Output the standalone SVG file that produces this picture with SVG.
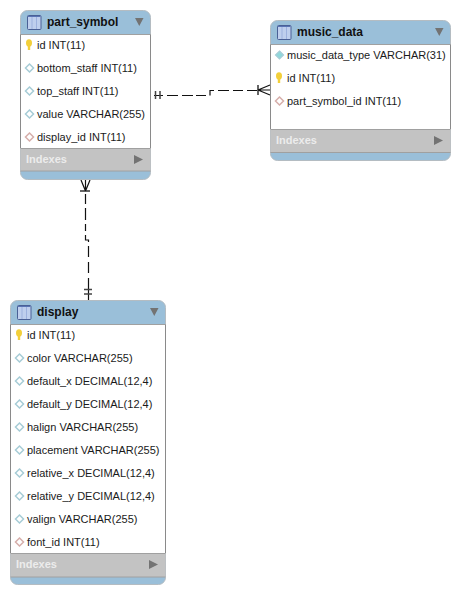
<svg xmlns="http://www.w3.org/2000/svg" width="460" height="594" viewBox="0 0 460 594">
<style>
text{font-family:"Liberation Sans",Arial,sans-serif;font-size:11px;fill:#1a1a1a}
.t{font-size:12px;font-weight:bold;fill:#111}
.ix{font-size:11px;font-weight:bold;fill:#ececec}
.bd{fill:#fff;stroke:none}
.blue{fill:#9abfd9;stroke:#b4bcc2;stroke-width:1}
.grey{fill:#c3c3c3}
.sep{stroke:#a0a0a0;stroke-width:1;fill:none}
.out{fill:none;stroke:#8a8a8a;stroke-width:1}
.tri{fill:#737373}
.c{fill:none;stroke:#111;stroke-width:1.2}
.m{stroke:#444;stroke-width:1.5;fill:none}
.b{stroke:#666;stroke-width:2;fill:none}
.pk{fill:#f2cf3a}
.fk{fill:#fff;stroke:#d6aeaa;stroke-width:1.5}
.col{fill:#fff;stroke:#a6ccd6;stroke-width:1.5}
.nn{fill:#8fd8dc;stroke:#a6ccd6;stroke-width:1.2}
</style>
<defs>
<g id="icon"><rect x="0.5" y="0.500" width="13.500" height="14" rx="1" fill="#bfcfee" stroke="#4a6096"/><path d="M5 2V14M9.500 2V14" stroke="#9db1de" fill="none"/><path d="M1 1.500H13.500" stroke="#5a74b4"/></g>
<g id="key"><ellipse cx="0" cy="-2" rx="3" ry="3.700" class="pk"/><rect x="-1.200" y="0" width="2.400" height="5" class="pk"/></g>
<path id="dia" d="M0 -4L4 0L0 4L-4 0Z"/>
</defs>

<g id="connectors">
<path class="c" d="M154 95.500H163M167 95.500H178M182 95.500H193M196 95.500H206M210 95.500V90.500H214M218 90.500H229M233 90.500H243M247 90.500H258"/>
<path class="m" d="M155.500 91V99M160 91V99"/>
<path class="b" d="M258 85V95"/>
<path class="c" d="M258 90L270 85M258 90L270 95M258 90H270"/>
<path class="c" d="M85.500 194V204M85.500 208V220M85.500 224V231M85.500 235V240H88.500V242M88.500 246V257M88.500 262V273M88.500 278V300"/>
<path class="b" d="M80 191H90"/>
<path class="c" d="M85.500 191L81 180M85.500 191L90 180M85.500 191V180"/>
<path class="m" d="M84 289.500H92M84 294H92"/>
</g>

<g id="part_symbol">
<rect x="20.500" y="10.500" width="130" height="169" rx="7" class="blue"/>
<rect x="20.500" y="34.500" width="130" height="114" class="bd"/>
<rect x="20.500" y="148" width="130" height="23" class="grey"/>
<path class="sep" d="M20.500 34.500H150.500M20.500 148.500H150.500M20.500 171H150.500"/>
<path class="out" d="M20.500 34.500V148M150.500 34.500V148"/>
<use href="#icon" x="27" y="15"/>
<text class="t" x="47" y="26">part_symbol</text>
<path class="tri" d="M135 18H143.500L139.250 26Z"/>
<use href="#key" x="29" y="45"/><text x="37" y="49">id INT(11)</text>
<use href="#dia" x="29.500" y="68" class="col"/><text x="37" y="72">bottom_staff INT(11)</text>
<use href="#dia" x="29.500" y="91" class="col"/><text x="37" y="95">top_staff INT(11)</text>
<use href="#dia" x="29.500" y="114" class="col"/><text x="37" y="118">value VARCHAR(255)</text>
<use href="#dia" x="29.500" y="137" class="fk"/><text x="37" y="141">display_id INT(11)</text>
<text class="ix" x="26" y="163">Indexes</text>
<path class="tri" d="M134 155L143 159.500L134 164Z"/>
</g>

<g id="music_data">
<rect x="270.500" y="20.500" width="180" height="140" rx="7" class="blue"/>
<rect x="270.500" y="44.500" width="180" height="85" class="bd"/>
<rect x="270.500" y="129" width="180" height="23.500" class="grey"/>
<path class="sep" d="M270.500 44.500H450.500M270.500 129.500H450.500M270.500 152.500H450.500"/>
<path class="out" d="M270.500 44.500V129M450.500 44.500V129"/>
<use href="#icon" x="277" y="25"/>
<text class="t" x="297" y="36">music_data</text>
<path class="tri" d="M435 28H443.500L439.250 36Z"/>
<use href="#dia" x="279.500" y="55" class="nn"/><text x="287" y="59">music_data_type VARCHAR(31)</text>
<use href="#key" x="279" y="78"/><text x="287" y="82">id INT(11)</text>
<use href="#dia" x="279.500" y="101" class="fk"/><text x="287" y="105">part_symbol_id INT(11)</text>
<text class="ix" x="276" y="144">Indexes</text>
<path class="tri" d="M434 136L443 140.500L434 145Z"/>
</g>

<g id="display">
<rect x="10.500" y="300.500" width="155" height="284" rx="7" class="blue"/>
<rect x="10.500" y="324.500" width="155" height="229" class="bd"/>
<rect x="10.500" y="553" width="155" height="24" class="grey"/>
<path class="sep" d="M10.500 324.500H165.500M10.500 553.500H165.500M10.500 577H165.500"/>
<path class="out" d="M10.500 324.500V553M165.500 324.500V553"/>
<use href="#icon" x="17" y="305"/>
<text class="t" x="37" y="316">display</text>
<path class="tri" d="M150 308H158.500L154.250 316Z"/>
<use href="#key" x="19" y="335"/><text x="27" y="339">id INT(11)</text>
<use href="#dia" x="19.500" y="358" class="col"/><text x="27" y="362">color VARCHAR(255)</text>
<use href="#dia" x="19.500" y="381" class="col"/><text x="27" y="385">default_x DECIMAL(12,4)</text>
<use href="#dia" x="19.500" y="404" class="col"/><text x="27" y="408">default_y DECIMAL(12,4)</text>
<use href="#dia" x="19.500" y="427" class="col"/><text x="27" y="431">halign VARCHAR(255)</text>
<use href="#dia" x="19.500" y="450" class="col"/><text x="27" y="454">placement VARCHAR(255)</text>
<use href="#dia" x="19.500" y="473" class="col"/><text x="27" y="477">relative_x DECIMAL(12,4)</text>
<use href="#dia" x="19.500" y="496" class="col"/><text x="27" y="500">relative_y DECIMAL(12,4)</text>
<use href="#dia" x="19.500" y="519" class="col"/><text x="27" y="523">valign VARCHAR(255)</text>
<use href="#dia" x="19.500" y="542" class="fk"/><text x="27" y="546">font_id INT(11)</text>
<text class="ix" x="16" y="568">Indexes</text>
<path class="tri" d="M149 560L158 564.500L149 569Z"/>
</g>
</svg>
